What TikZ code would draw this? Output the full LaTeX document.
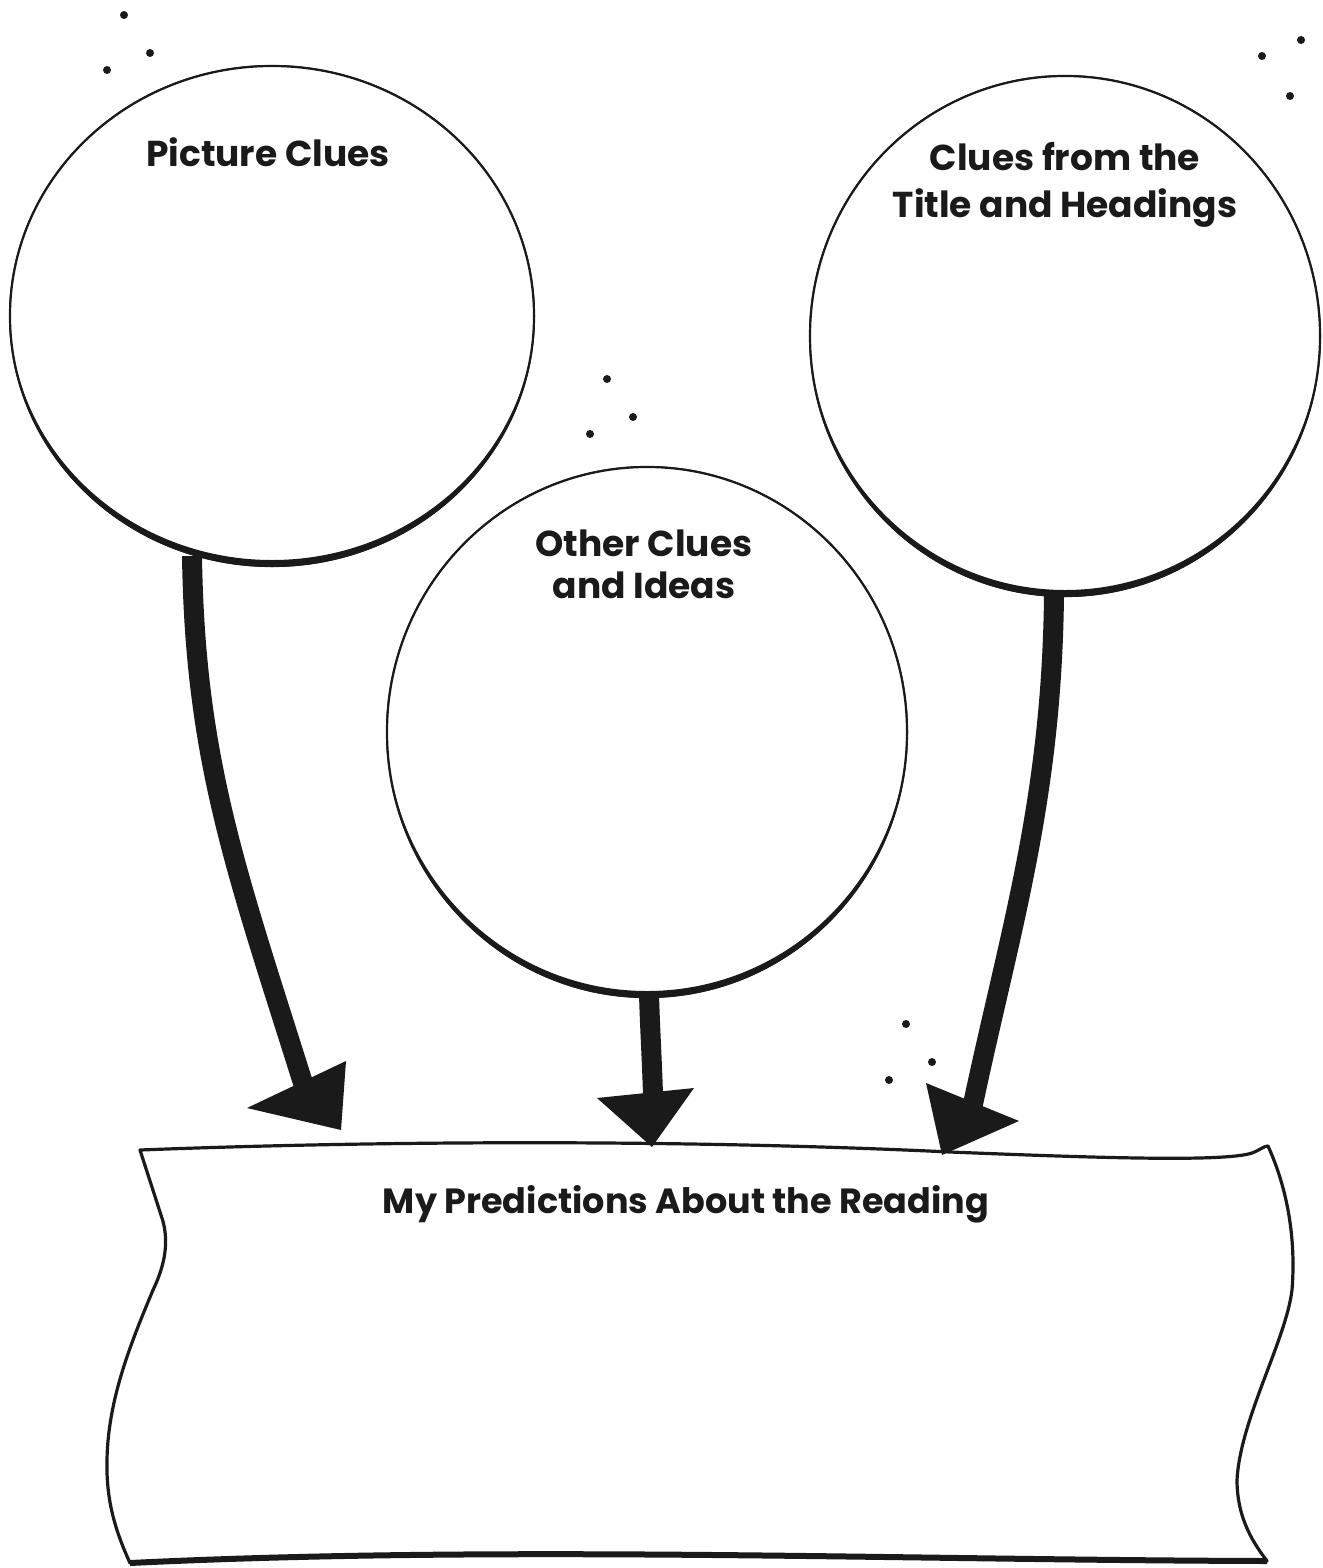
\documentclass[tikz,border=0pt]{standalone}
\usepackage{fontspec}
\newfontfamily\lblfont{Poppins}
\usetikzlibrary{shapes.geometric,calc}
\begin{document}
\begin{tikzpicture}[x=0.5pt,y=-0.5pt,
  bubble/.style={ellipse, draw=ink, line width=1.1pt, inner sep=0pt},
  label/.style={font=\lblfont\bfseries\fontsize{18}{23.5}\selectfont, text=ink, align=center, inner sep=0pt},
  shaft/.style={draw=ink, line width=10pt},
  head/.style={fill=ink},
  spot/.style={fill=ink},
  bannerline/.style={draw=ink, line width=1.6pt, line join=round}]
\definecolor{ink}{RGB}{26,26,26}
\useasboundingbox[fill=white] (0,0) rectangle (1322,1568);

% bubbles
\node[bubble, minimum width=262pt, minimum height=250pt] (picture) at (272,316) {};
\node[bubble, minimum width=255pt, minimum height=260pt] (title) at (1065,336) {};
\node[bubble, minimum width=260pt, minimum height=265pt] (other) at (647,732) {};

% thicker lower rims
\fill[ink, even odd rule] (picture.center) ellipse [x radius=263, y radius=251]
   ($(picture.center)+(0,-3)$) ellipse [x radius=262, y radius=247];
\fill[ink, even odd rule] (title.center) ellipse [x radius=256, y radius=261]
   ($(title.center)+(0,-3)$) ellipse [x radius=255, y radius=257];
\fill[ink, even odd rule] (other.center) ellipse [x radius=261, y radius=266]
   ($(other.center)+(0,-3)$) ellipse [x radius=260, y radius=262];

% labels
\node[label] (lpic) at (268,152) {Picture Clues};
\node[label] (ltitle) at (1065,185) {Clues from the\\Title and Headings};
\node[label, font=\lblfont\bfseries\fontsize{18}{21}\selectfont] (lother) at (644,564) {Other Clues\\and Ideas};

% banner
\coordinate (b1) at (140,1150);
\coordinate (b2) at (1268,1146);
\coordinate (b3) at (1267,1561);
\coordinate (b4) at (130,1563);
\path[bannerline] (b1) .. controls (400,1140) and (700,1140) .. (950,1152)
   .. controls (1100,1158) and (1225,1162) .. (1252,1153)
   .. controls (1260,1150) and (1264,1146) .. (b2)
   .. controls (1288,1190) and (1296,1240) .. (1292,1290)
   .. controls (1286,1340) and (1240,1420) .. (1237,1480)
   .. controls (1237,1520) and (1255,1545) .. (b3)
   .. controls (900,1560) and (500,1545) .. (b4)
   .. controls (115,1530) and (106,1500) .. (107,1460)
   .. controls (108,1400) and (130,1345) .. (153,1290)
   .. controls (165,1265) and (170,1240) .. (161,1215) -- cycle;
\draw[ink, line width=3pt] (b3) .. controls (900,1560) and (500,1545) .. (b4);
\node[label, font=\lblfont\bfseries\fontsize{17.5}{21}\selectfont] (lbanner) at (686,1204) {My Predictions About the Reading};

% arrow 1
\coordinate (s1) at (192,556);
\coordinate (e1) at (303,1083);
\path[shaft] (s1) .. controls (195,760) and (236,870) .. (e1);
\coordinate (h1a) at (247,1108);
\coordinate (h1b) at (346,1061);
\coordinate (h1t) at (341,1130);
\fill[head] (h1a) -- (h1b) -- (h1t) -- cycle;

% arrow 2
\coordinate (s2) at (649,994);
\coordinate (e2) at (653,1095);
\path[shaft] (s2) .. controls (650,1030) and (652,1060) .. (e2);
\coordinate (h2a) at (597,1098);
\coordinate (h2b) at (694,1088);
\coordinate (h2t) at (652,1147);
\fill[head] (h2a) -- (h2b) -- (h2t) -- cycle;

% arrow 3
\coordinate (s3) at (1054,594);
\coordinate (e3) at (973,1104);
\path[shaft] (s3) .. controls (1052,800) and (1010,930) .. (e3);
\coordinate (h3a) at (926,1083);
\coordinate (h3b) at (1019,1121);
\coordinate (h3t) at (942,1155);
\fill[head] (h3a) -- (h3b) -- (h3t) -- cycle;

% dots
\foreach \p/\q in {124/15,150/53,107/70,1301/40,1262/56,1290/96,607/379,633/417,590/434,906/1024,932/1062,889/1080}
  \fill[spot] (\p,\q) circle[radius=2pt];
\end{tikzpicture}
\end{document}
